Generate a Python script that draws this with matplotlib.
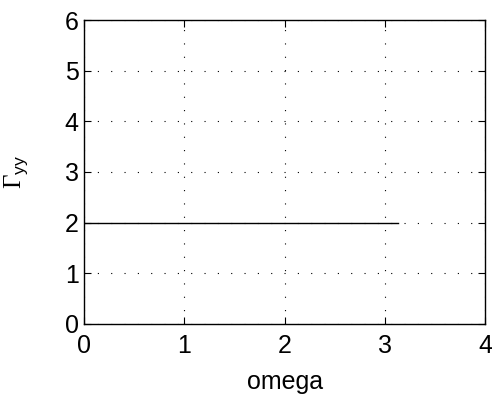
import numpy as np
import matplotlib
matplotlib.use('Agg')
import matplotlib.pyplot as plt

plt.rcParams['font.family'] = ['Liberation Sans', 'DejaVu Sans']
plt.rcParams['mathtext.fontset'] = 'custom'
plt.rcParams['mathtext.rm'] = 'Liberation Serif'
plt.rcParams['mathtext.it'] = 'Liberation Sans'

# data
omega = [0.0, 3.13]
gamma_yy = [2.0, 2.0]
xticks = [0, 1, 2, 3, 4]
yticks = [0, 1, 2, 3, 4, 5, 6]

fig = plt.figure(figsize=(4.92, 3.94), dpi=100)
ax = fig.add_axes([0.171, 0.178, 0.815, 0.771])

ax.plot(omega, gamma_yy, color='black', linewidth=1.0)

ax.set_xlim(0, 4)
ax.set_ylim(0, 6)
ax.set_xticks(xticks)
ax.set_yticks(yticks)
ax.grid(True, color='black', linestyle=(0, (1, 11)), linewidth=0.8)

ax.tick_params(direction='in', length=5, width=0.8, top=True, right=True,
               labelsize=18)
ax.tick_params(axis='x', pad=7)
ax.tick_params(axis='y', pad=4)
for s in ax.spines.values():
    s.set_linewidth(1.0)

ax.set_xlabel('omega', fontsize=18, labelpad=9)
ax.set_ylabel(r'$\Gamma_{\mathit{yy}}$', fontsize=18)
ax.yaxis.set_label_coords(-0.135, 0.5)

fig.savefig('out.png', dpi=100)
